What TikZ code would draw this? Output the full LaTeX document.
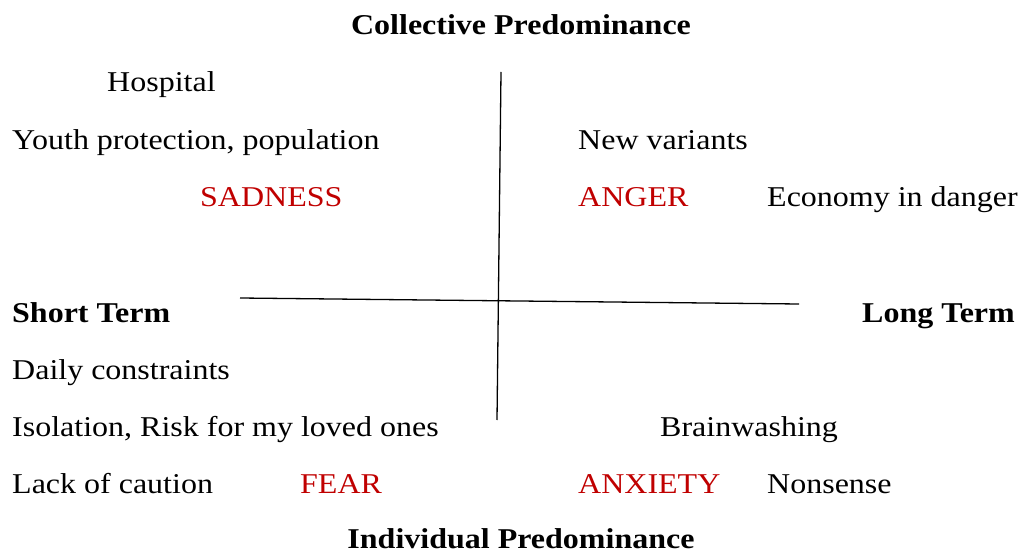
\documentclass[tikz,border=0pt]{standalone}
\usepackage{fontspec}
\setmainfont{Liberation Serif}[FakeStretch=1.115]
\usepackage{tikz}
\definecolor{emored}{HTML}{C00000}

\tikzset{
  lbl/.style={anchor=base west, inner sep=0pt, font=\fontsize{28.7}{34}\selectfont},
  emo/.style={lbl, text=emored},
  head/.style={anchor=base, inner sep=0pt, font=\fontsize{28.7}{34}\selectfont\bfseries},
  axis/.style={line width=1.3pt}
}

\begin{document}
\begin{tikzpicture}[x=1pt,y=-1pt]

\useasboundingbox (0,0) rectangle (1019,553);

\node[head] (coll) at (521,35) {Collective Predominance};
\node[head] (indiv) at (521,548) {Individual Predominance};

\node[head, anchor=base west] (short) at (12,322) {Short Term};
\node[head, anchor=base east] (long) at (1015,322) {Long Term};

\coordinate (top) at (501,72);
\coordinate (bot) at (497,420);
\coordinate (left) at (240,298);
\coordinate (right) at (799,304);

\draw[axis] (top) -- (bot);
\draw[axis] (left) -- (right);

\node[lbl] (hosp) at (107,92) {Hospital};
\node[lbl] (youth) at (12,150) {Youth protection, population};
\node[emo] (sad) at (200,207) {SADNESS};

\node[lbl] (newv) at (578,150) {New variants};
\node[emo] (anger) at (578,207) {ANGER};
\node[lbl] (econ) at (767,207) {Economy in danger};

\node[lbl] (daily) at (12,379) {Daily constraints};
\node[lbl] (isol) at (12,436) {Isolation, Risk for my loved ones};
\node[lbl] (lack) at (12,493) {Lack of caution};
\node[emo] (fear) at (300,493) {FEAR};

\node[lbl] (brain) at (660,436) {Brainwashing};
\node[emo] (anx) at (578,493) {ANXIETY};
\node[lbl] (nons) at (767,493) {Nonsense};

\end{tikzpicture}
\end{document}
